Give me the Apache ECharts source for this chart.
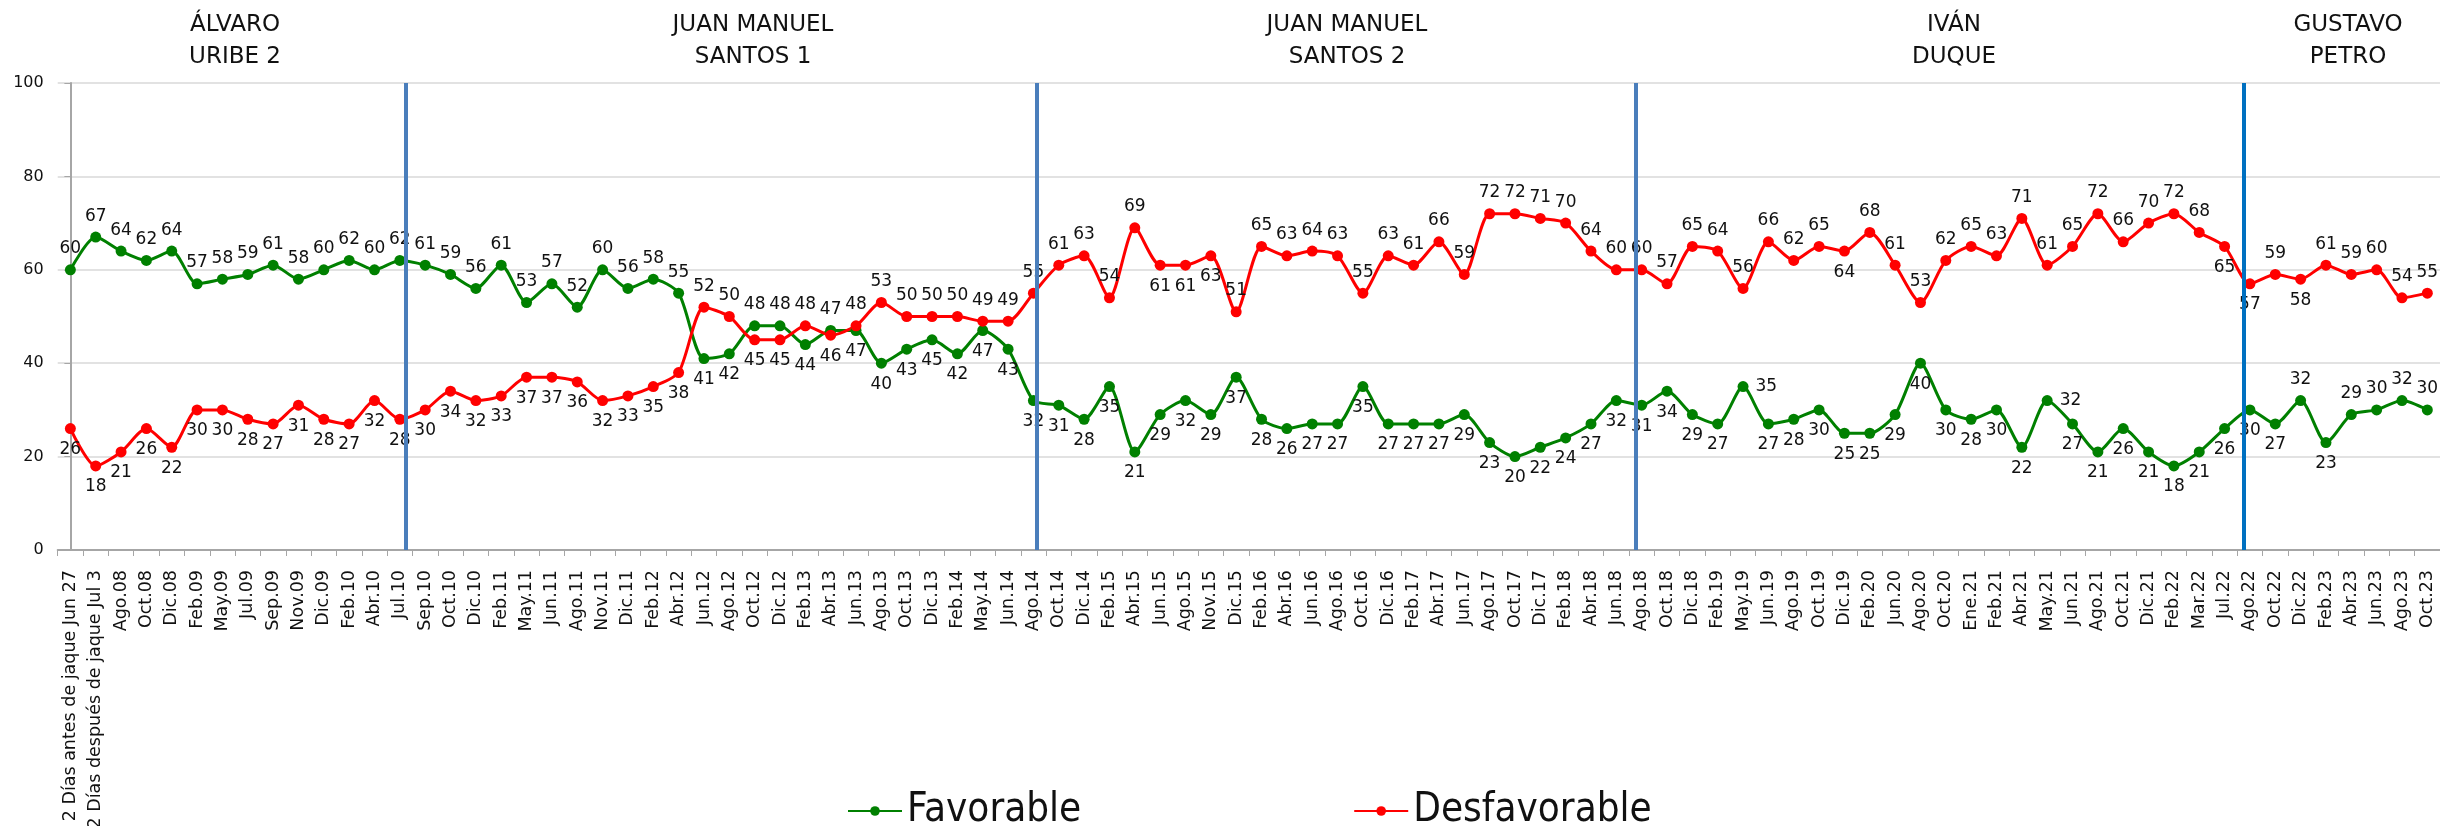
<!DOCTYPE html>
<html>
<head>
<meta charset="utf-8">
<title>Imagen presidencial: favorable / desfavorable</title>
<script src="https://cdn.jsdelivr.net/npm/echarts@6/dist/echarts.min.js"></script>
<style>
html, body { margin: 0; padding: 0; background: #fff; }
#chart { width: 2440px; height: 826px; }
</style>
</head>
<body>
<div id="chart"></div>
<script>
// categorias (fechas de medicion)
const categories = [
    '2 Días antes de jaque Jun 27', '2 Días después de jaque Jul 3',
    'Ago.08', 'Oct.08', 'Dic.08', 'Feb.09', 'May.09', 'Jul.09', 'Sep.09', 'Nov.09', 'Dic.09', 'Feb.10', 'Abr.10', 'Jul.10',
    'Sep.10', 'Oct.10', 'Dic.10', 'Feb.11', 'May.11', 'Jun.11', 'Ago.11', 'Nov.11', 'Dic.11', 'Feb.12', 'Abr.12',
    'Jun.12', 'Ago.12', 'Oct.12', 'Dic.12', 'Feb.13', 'Abr.13', 'Jun.13', 'Ago.13', 'Oct.13', 'Dic.13', 'Feb.14', 'May.14', 'Jun.14',
    'Ago.14', 'Oct.14', 'Dic.14', 'Feb.15', 'Abr.15', 'Jun.15', 'Ago.15', 'Nov.15', 'Dic.15', 'Feb.16', 'Abr.16', 'Jun.16', 'Ago.16',
    'Oct.16', 'Dic.16', 'Feb.17', 'Abr.17', 'Jun.17', 'Ago.17', 'Oct.17', 'Dic.17', 'Feb.18', 'Abr.18', 'Jun.18',
    'Ago.18', 'Oct.18', 'Dic.18', 'Feb.19', 'May.19', 'Jun.19', 'Ago.19', 'Oct.19', 'Dic.19', 'Feb.20', 'Jun.20', 'Ago.20', 'Oct.20',
    'Ene.21', 'Feb.21', 'Abr.21', 'May.21', 'Jun.21', 'Ago.21', 'Oct.21', 'Dic.21', 'Feb.22', 'Mar.22', 'Jul.22',
    'Ago.22', 'Oct.22', 'Dic.22', 'Feb.23', 'Abr.23', 'Jun.23', 'Ago.23', 'Oct.23'
];

const favorable = [
    60, 67, 64, 62, 64, 57, 58, 59, 61, 58, 60, 62, 60, 62,
    61, 59, 56, 61, 53, 57, 52, 60, 56, 58, 55, 41, 42, 48, 48, 44, 47, 47, 40, 43, 45, 42, 47, 43,
    32, 31, 28, 35, 21, 29, 32, 29, 37, 28, 26, 27, 27, 35, 27, 27, 27, 29, 23, 20, 22, 24, 27, 32,
    31, 34, 29, 27, 35, 27, 28, 30, 25, 25, 29, 40, 30, 28, 30, 22, 32, 27, 21, 26, 21, 18, 21, 26,
    30, 27, 32, 23, 29, 30, 32, 30
];

const desfavorable = [
    26, 18, 21, 26, 22, 30, 30, 28, 27, 31, 28, 27, 32, 28,
    30, 34, 32, 33, 37, 37, 36, 32, 33, 35, 38, 52, 50, 45, 45, 48, 46, 48, 53, 50, 50, 50, 49, 49,
    55, 61, 63, 54, 69, 61, 61, 63, 51, 65, 63, 64, 63, 55, 63, 61, 66, 59, 72, 72, 71, 70, 64, 60,
    60, 57, 65, 64, 56, 66, 62, 65, 64, 68, 61, 53, 62, 65, 63, 71, 61, 65, 72, 66, 70, 72, 68, 65,
    57, 59, 58, 61, 59, 60, 54, 55
];

// periodos presidenciales
const periodNames = ['ÁLVARO\nURIBE 2', 'JUAN MANUEL\nSANTOS 1', 'JUAN MANUEL\nSANTOS 2', 'IVÁN\nDUQUE', 'GUSTAVO\nPETRO'];
const periodTitleX = [235, 753, 1347, 1954, 2348];
// separadores entre periodos (en unidades de categoria)
const dividerAt = [13.25, 38.15, 61.75, 85.75];

// posiciones de etiquetas que no siguen la regla general
const favLabelPos = { 66: 'right', 78: 'right', 86: 'bottom', 88: 'top', 90: 'top', 91: 'top', 92: 'top', 93: 'top' };
const desLabelPos = { 43: 'bottom', 44: 'bottom', 45: 'bottom', 70: 'bottom', 85: 'bottom', 86: 'bottom', 88: 'bottom' };

const FONT = "'DejaVu Sans', sans-serif";

const buildData = (values, other, overrides) => values.map((v, i) => ({
    value: v,
    label: { position: overrides[i] || (v >= other[i] ? 'top' : 'bottom') }
}));

const makeSeries = (name, color, values, other, overrides) => ({
    name: name,
    type: 'line',
    smooth: 0.25,
    symbol: 'circle',
    symbolSize: 11,
    lineStyle: { color: color, width: 3 },
    itemStyle: { color: color },
    label: {
        show: true,
        distance: 7,
        fontSize: 17,
        fontFamily: FONT,
        color: '#111'
    },
    z: 3,
    data: buildData(values, other, overrides)
});

const myChart = echarts.init(document.getElementById('chart'));

const option = {
    backgroundColor: '#fff',
    animation: false,
    graphic: periodNames.map((t, i) => ({
        type: 'text',
        x: periodTitleX[i],
        y: 9,
        style: {
            text: t,
            align: 'center',
            verticalAlign: 'top',
            fontSize: 23,
            lineHeight: 32,
            fontFamily: FONT,
            fill: '#111'
        }
    })),
    legend: {
        data: ['Favorable', 'Desfavorable'],
        left: 842,
        top: 786,
        itemWidth: 54,
        itemHeight: 12,
        itemGap: 272,
        textStyle: {
            fontSize: 40,
            fontFamily: "'Liberation Sans Narrow', 'DejaVu Sans Condensed', sans-serif",
            color: '#111'
        }
    },
    grid: {
        left: 57.7,
        right: 0,
        top: 83,
        bottom: 276,
        outerBoundsMode: 'none'
    },
    xAxis: [
        {
            type: 'category',
            data: categories,
            boundaryGap: true,
            axisLine: { lineStyle: { color: '#A6A6A6', width: 2 } },
            axisTick: { show: true, interval: 0, length: 6, lineStyle: { color: '#A6A6A6' } },
            axisLabel: {
                interval: 0,
                rotate: 90,
                fontSize: 17.5,
                margin: 20,
                fontFamily: FONT,
                color: '#111'
            }
        },
        {
            // eje auxiliar para ubicar los separadores
            type: 'value',
            show: false,
            min: -0.5,
            max: categories.length - 0.5
        }
    ],
    yAxis: {
        type: 'value',
        min: 0,
        max: 100,
        interval: 20,
        axisLine: { show: true, lineStyle: { color: '#A6A6A6', width: 2 } },
        axisTick: { show: true, length: 6, lineStyle: { color: '#A6A6A6' } },
        axisLabel: { fontSize: 16, margin: 14, fontFamily: FONT, color: '#111' },
        splitLine: { lineStyle: { color: '#D9D9D9', width: 1.5 } }
    },
    series: [
        makeSeries('Favorable', '#008000', favorable, desfavorable, favLabelPos),
        makeSeries('Desfavorable', '#FF0000', desfavorable, favorable, desLabelPos),
        {
            type: 'line',
            xAxisIndex: 1,
            data: [],
            silent: true,
            markLine: {
                symbol: 'none',
                silent: true,
                label: { show: false },
                data: dividerAt.map((x, i) => ({
                    xAxis: x,
                    lineStyle: { color: i === 3 ? '#0070C0' : '#4A7EBB', width: 4, type: 'solid' }
                }))
            }
        }
    ]
};

myChart.setOption(option);
</script>
</body>
</html>
